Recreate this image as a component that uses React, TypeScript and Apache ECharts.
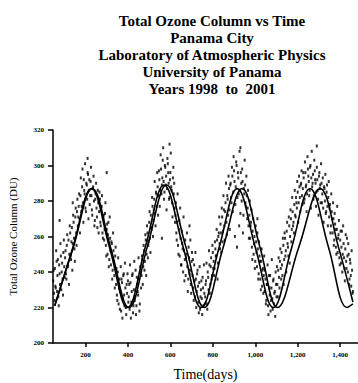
import { useEffect, useRef } from "react";
import * as echarts from "echarts";

const titleLines = [
  "Total Ozone Column vs Time",
  "Panama City",
  "Laboratory of Atmospheric Physics",
  "University of Panama",
  "Years 1998  to  2001",
];
const xAxisTitle = "Time(days)";
const yAxisTitle = "Total Ozone Column (DU)";
const xTicks = [200, 400, 600, 800, 1000, 1200, 1400];

// observations read every 4 days starting on day 48 (set A) and day 50 (set B)
const obsStepDays = 4;
const obsStartA = 48;
const obsStartB = 50;
const ozoneA1998 = [
  235, 228, 242, 231, 246, 238, 226, 244, 233, 249, 240, 236, 251, 243,
  248, 239, 255, 244, 258, 250, 262, 247, 265, 256, 268, 253, 271, 262, 274,
  266, 277, 270, 283, 274, 288, 279, 292, 284, 276, 290, 281, 295, 286, 278, 291, 283, 272, 288, 280, 269, 284, 276, 265, 279,
  274, 281, 266, 277, 262, 270, 258, 273, 255, 264, 250, 268, 247, 259, 244, 256, 241, 252, 238, 249,
  233, 227, 240, 222, 236, 229, 218, 234, 225, 239, 221, 231, 216, 228, 235,
];
const ozoneA1999 = [
  226, 219, 234, 223, 238, 217, 230, 224, 241, 221, 233, 227, 236, 222, 240,
  238, 247, 243, 252, 246, 258, 250, 262, 255, 268, 259, 272, 264, 277, 269, 281, 273, 285, 277, 288,
  283, 292, 286, 298, 289, 303, 291, 285, 299, 294, 287, 301, 290, 282, 296, 288, 279, 293, 284, 276,
  272, 262, 268, 255, 264, 249, 259, 244, 256, 240, 252, 247, 238, 250, 243, 236, 248, 241, 233, 246,
  238, 231, 244, 226, 236, 229, 241, 223, 234, 219, 230, 225, 237, 221, 228,
];
const ozoneA2000 = [
  226, 235, 222, 240, 230, 244, 233, 248, 238, 251,
  246, 242, 253, 249, 258, 245, 262, 256, 267, 251, 271, 263, 275, 258, 279, 268, 283, 272, 287, 264,
  290, 279, 294, 285, 297, 260, 288, 300, 282, 293, 266, 286, 296, 280, 291, 272, 284, 289, 277, 283,
  276, 266, 272, 259, 268, 254, 263, 250, 260, 246, 257, 243, 253, 239, 249, 236, 246, 232, 242, 238,
  229, 236, 224, 233, 221, 238, 227, 218, 231, 225, 235, 222, 229, 240, 226,
];
const ozoneA2001 = [
  233, 241, 237, 246, 242, 251, 238, 255, 247, 259, 252, 263, 256, 249, 266,
  260, 270, 264, 274, 268, 278, 272, 282, 276, 285, 279, 288, 274, 290, 283,
  287, 293, 281, 296, 289, 284, 298, 291, 286, 300, 293, 288, 295, 283, 297, 290, 285, 292, 281, 294, 287, 279, 290, 284, 276, 288, 280, 273, 285, 277,
  282, 271, 278, 266, 274, 262, 270, 258, 267, 254, 264, 251, 261, 248, 258, 245, 263, 250, 256, 242,
  253, 246, 259, 240, 250, 236, 245, 232, 241, 229,
];
const ozoneB1998 = [
  241, 224, 232, 252, 229, 247, 221, 239, 256, 230, 245, 227, 258, 237,
  252, 236, 261, 243, 233, 266, 249, 257, 241, 272, 259, 246, 276, 255, 281,
  271, 284, 262, 293, 277, 298, 268, 286, 301, 274, 289, 296, 270, 292, 283, 299, 275, 287, 294, 266, 281, 290, 271, 286, 262,
  285, 268, 276, 283, 259, 272, 264, 279, 249, 267, 261, 243, 271, 252, 257, 236, 262, 246, 231, 254,
  242, 224, 248, 231, 219, 243, 236, 214, 238, 227, 245, 220, 233, 239, 223,
];
const ozoneB1999 = [
  233, 244, 214, 229, 239, 221, 246, 226, 216, 237, 229, 248, 218, 243, 231,
  249, 233, 255, 241, 261, 238, 266, 248, 257, 274, 251, 265, 282, 260, 275, 291, 266, 284, 296, 272,
  297, 277, 306, 284, 293, 310, 281, 300, 289, 275, 304, 296, 281, 292, 307, 286, 271, 299, 290, 268,
  279, 258, 284, 250, 269, 276, 244, 263, 253, 271, 235, 258, 248, 262, 229, 254, 239, 258, 228, 251,
  247, 224, 235, 251, 220, 239, 232, 217, 243, 226, 235, 216, 231, 244, 222,
];
const ozoneB2000 = [
  233, 245, 219, 237, 252, 228, 243, 236, 255, 242,
  238, 257, 249, 264, 236, 260, 271, 253, 262, 276, 257, 283, 266, 274, 290, 261, 281, 294, 275, 289,
  282, 299, 274, 305, 291, 278, 302, 254, 296, 284, 308, 273, 290, 298, 262, 287, 303, 279, 294, 270,
  286, 259, 280, 266, 275, 247, 270, 256, 242, 266, 251, 262, 236, 257, 246, 230, 253, 241, 228, 249,
  241, 222, 233, 244, 216, 231, 238, 224, 247, 219, 236, 228, 215, 233, 243,
];
const ozoneB2001 = [
  226, 248, 231, 253, 236, 244, 259, 233, 262, 249, 240, 268, 254, 271, 245,
  275, 257, 282, 266, 262, 286, 271, 279, 291, 268, 294, 282, 289, 297, 278,
  296, 279, 302, 288, 274, 305, 294, 283, 299, 276, 308, 290, 281, 303, 292, 277, 299, 286, 272, 296, 289, 301, 279, 293, 268, 287, 295, 274, 289, 266,
  291, 276, 262, 284, 270, 279, 255, 273, 264, 250, 277, 259, 269, 244, 263, 254, 240, 266, 248, 235,
  261, 242, 249, 256, 233, 247, 238, 252, 228,
];
const outliers = [
  [140, 279], [78, 269], [560, 259], [596, 312], [300, 296], [930, 310], [690, 266], [1010, 270],
  [1290, 311], [210, 304],
];

// two fitted seasonal curves (day, DU)
const fitA = [
  [55, 221], [141, 254], [228, 287], [313, 254], [398, 220], [484, 255], [570, 289],
  [658, 255], [745, 220], [830, 254], [915, 287], [1000, 254], [1085, 220], [1172, 254],
  [1258, 287], [1345, 254], [1433, 220], [1460, 222],
];
const fitB = [
  [55, 221], [143, 254], [232, 287], [318, 254], [405, 220], [493, 255], [582, 289],
  [671, 255], [760, 220], [849, 254], [938, 287], [1022, 254], [1105, 220], [1205, 254],
  [1306, 287], [1392, 254], [1460, 223],
];

export default function App() {
  const ref = useRef<HTMLDivElement>(null);
  useEffect(() => {
    const chart = echarts.init(ref.current!, null, { renderer: "svg" });
    const toPoints = (vals: number[], start: number) =>
      vals.map((v, i) => [start + i * obsStepDays, v]);
    const obsA = toPoints([...ozoneA1998, ...ozoneA1999, ...ozoneA2000, ...ozoneA2001], obsStartA);
    const obsB = toPoints([...ozoneB1998, ...ozoneB1999, ...ozoneB2000, ...ozoneB2001], obsStartB);
    const serif = "Liberation Serif";
    const dot = {
      type: "scatter",
      symbol: "rect",
      symbolSize: [2, 3],
      itemStyle: { color: "#000" },
    };
    chart.setOption({
      animation: false,
      backgroundColor: "#fff",
      title: {
        text: titleLines.join("\n"),
        left: 207,
        top: 7,
        textAlign: "center",
        textStyle: {
          fontFamily: serif,
          fontWeight: "bold",
          fontSize: 15,
          lineHeight: 17,
          color: "#000",
        },
      },
      grid: {
        left: 53,
        top: 130,
        right: 0,
        bottom: 40,
        containLabel: false,
        outerBoundsMode: "none",
      },
      xAxis: {
        type: "value",
        min: 47,
        max: 1484,
        name: xAxisTitle,
        nameLocation: "middle",
        nameGap: 24,
        nameTextStyle: { fontFamily: serif, fontSize: 14, color: "#000" },
        axisLine: { lineStyle: { color: "#000", width: 1.5 } },
        axisTick: { customValues: xTicks, length: 4, lineStyle: { color: "#000", width: 1.5 } },
        axisLabel: {
          customValues: xTicks,
          fontFamily: serif,
          fontSize: 7,
          fontWeight: "bold",
          color: "#000",
          margin: 8,
          formatter: (v: number) => v.toLocaleString("en-US"),
        },
        splitLine: { show: false },
      },
      yAxis: {
        type: "value",
        min: 200,
        max: 320,
        interval: 20,
        name: yAxisTitle,
        nameLocation: "middle",
        nameGap: 35,
        nameTextStyle: { fontFamily: serif, fontSize: 11, color: "#000" },
        axisLine: { show: true, lineStyle: { color: "#000", width: 1.5 } },
        axisTick: { show: true, length: 5, lineStyle: { color: "#000", width: 1.5 } },
        axisLabel: {
          fontFamily: serif,
          fontSize: 7,
          fontWeight: "bold",
          color: "#000",
          margin: 9,
        },
        splitLine: { show: false },
      },
      series: [
        { ...dot, data: obsA },
        { ...dot, data: obsB },
        { ...dot, data: outliers },
        {
          type: "line",
          data: fitA,
          smooth: 0.4,
          showSymbol: false,
          lineStyle: { color: "#000", width: 1.6 },
        },
        {
          type: "line",
          data: fitB,
          smooth: 0.4,
          showSymbol: false,
          lineStyle: { color: "#000", width: 1.6 },
        },
      ],
    });
    return () => chart.dispose();
  }, []);
  return <div ref={ref} style={{ position: "fixed", left: 0, top: 0, width: 358, height: 383 }} />;
}
